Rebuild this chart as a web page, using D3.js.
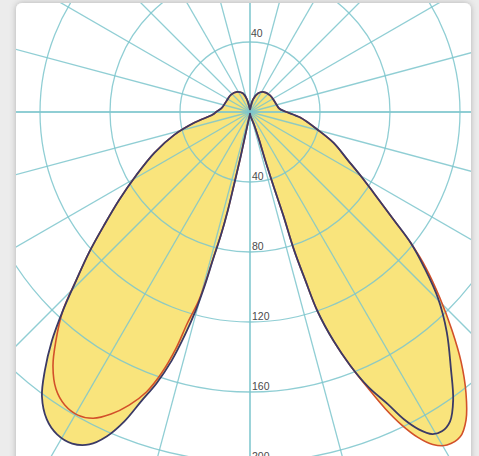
<!DOCTYPE html>
<html><head><meta charset="utf-8">
<script src="https://cdn.jsdelivr.net/npm/d3@7"></script>
<style>html,body{margin:0;padding:0;background:#ececec;}svg{display:block;}</style>
</head><body><svg id="c" width="479" height="456"></svg>
<script>
// Dark curve: gamma angle (deg, 0 = nadir, + to the right) and intensity, in outline order
const darkAngles = [-180,-173.7,-166.5,-159.3,-147,-131.8,-116.6,-98.1,-90.9,-86.1,-79.2,-73.3,-66.9,-61,-56.1,-52.2,-48.9,-45.9,-43.3,-40.9,-38.4,-36.2,-33.5,-30.9,-28.2,-25.8,-23.8,-22.1,-20.6,-19,-17.5,-16.3,-15.3,-14.6,-14.1,-13.3,-12.7,-12.4,-11.9,-11.5,-10,-5,0,5,12,16,17.7,18.1,17.5,17.6,17.85,17.7,18.2,18.7,20.05,21.6,23.3,25.25,26.6,28,29.5,31,32.9,35.2,38.1,41.8,45.3,48.3,50.8,53.1,56.8,59.8,63.9,69.8,75.4,83.7,90.8,96.9,110.8,129.5,147,156.6,166.5,173.7];
const darkValues = [1.5,2.6,7.4,11.4,13.7,14.7,14.8,16.3,19,21.3,32.2,45,59.4,74.2,90.1,105.5,122,138.4,155.9,172.9,188.8,201.3,210.5,214.7,215,211,202.5,190.8,176.5,163.9,149.1,133.2,117.7,102.5,87.4,72.4,57.5,42.7,27.9,14.4,5,2,1,2,3.5,5.5,7.5,16.6,28.6,43.7,61.9,83,101.3,119.9,139.2,156.1,171.2,184.6,196.4,205.4,211.5,212.9,210.5,201.4,186,168.7,151.1,133.2,118.7,102.8,84.5,73.8,62.1,50.8,39.8,28.9,20.1,16.8,15.4,14.9,13.7,11.6,7.4,2.6];
// Red curve
const redAngles = [-180,-173.7,-166.5,-159.3,-147,-131.8,-116.6,-98.1,-90.9,-86.1,-79.2,-73.3,-66.9,-61,-56.1,-52.2,-48.9,-45.9,-43.3,-40.3,-37.8,-35,-32.3,-29.6,-27.1,-24.7,-22.4,-20.3,-18.7,-17.4,-16.5,-15.2,-14.6,-14.1,-13.3,-12.7,-12.4,-11.9,-11.5,-10,-5,0,5,12,16,17.7,18.1,17.5,17.6,17.85,17.7,18.2,18.7,20.05,21.6,23.2,24.55,25.8,27.3,28.8,30.6,32.9,35.04,37.55,40.2,42.8,45.6,48.45,50.8,53.1,56.8,59.8,63.9,69.8,75.4,83.7,90.8,96.9,110.8,129.5,147,156.6,166.5,173.7];
const redValues = [1.5,2.6,7.4,11.4,13.7,14.7,14.8,16.3,19,21.3,32.2,45,59.4,74.2,90.1,105.5,122,138.4,155.9,171.5,183.7,193.3,198.1,199.2,196.6,190,181.2,170.6,157.5,141.9,125.6,111.7,99,86,72.4,57.5,42.7,27.9,14.4,5,2,1,2,3.5,5.5,7.5,16.6,28.6,43.7,61.9,83,101.3,119.9,139.2,156.1,172.2,186.7,198.2,209.2,216.8,221.1,221.1,215,202.5,186.9,169.8,151.9,134.4,118.7,102.8,84.5,73.8,62.1,50.8,39.8,28.9,20.1,16.8,15.4,14.9,13.7,11.6,7.4,2.6];
const ringValues = [40,80,120,160,200,240];
const labelsBelow = ["40","80","120","160","200"];
const labelsAbove = ["40"];
const spokeAngles = [0,15,30,45,60,75,90,105,120,135,150,165,180,195,210,225,240,255,270,285,300,315,330,345];

const svg = d3.select("#c");
const cx = 250, cy = 112;
const r = d3.scaleLinear().domain([0,40]).range([0,70]);

const defs = svg.append("defs");
const f = defs.append("filter").attr("id","sh").attr("x","-5%").attr("y","-5%").attr("width","110%").attr("height","110%");
f.append("feDropShadow").attr("dx",0).attr("dy",0).attr("stdDeviation",3).attr("flood-color","#000").attr("flood-opacity",0.25);
defs.append("clipPath").attr("id","cp").append("rect").attr("x",16).attr("y",3).attr("width",455).attr("height",470).attr("rx",6);

svg.append("rect").attr("x",16).attr("y",3).attr("width",455).attr("height",470).attr("rx",6)
  .attr("fill","#fff").attr("filter","url(#sh)");

const g = svg.append("g").attr("clip-path","url(#cp)").append("g").attr("transform",`translate(${cx},${cy})`);

const toPts = (angs, vals) => angs.map((a,i)=>({a, v: vals[i]}));
const line = d3.lineRadial()
  .angle(d => Math.PI - d.a*Math.PI/180)
  .radius(d => r(d.v))
  .curve(d3.curveCatmullRomClosed.alpha(0.5));

const dark = toPts(darkAngles, darkValues), red = toPts(redAngles, redValues);

// fills
[dark, red].forEach(p => {
  g.append("path").attr("d", line(p)).attr("fill","#f9e47c").attr("stroke","none");
});

// grid
const grid = g.append("g").attr("stroke","#7cc6cc").attr("fill","none").attr("stroke-opacity",0.85);
grid.selectAll("circle").data(ringValues).join("circle").attr("r", d=>r(d)).attr("stroke-width",1.3);
grid.selectAll("line").data(spokeAngles).join("line")
  .attr("x1",0).attr("y1",0)
  .attr("x2", d => 600*Math.sin(d*Math.PI/180))
  .attr("y2", d => 600*Math.cos(d*Math.PI/180))
  .attr("stroke-width", d => (d%90===0)?1.8:1.3);

// curves
g.append("path").attr("d", line(red)).attr("fill","none").attr("stroke","#d2502a").attr("stroke-width",1.6);
g.append("path").attr("d", line(dark)).attr("fill","none").attr("stroke","#3b3a66").attr("stroke-width",1.8);

// labels
const lab = g.append("g").attr("font-family","Liberation Sans, Arial, sans-serif").attr("font-size",10.5).attr("fill","#4a4a4a");
lab.selectAll("text.b").data(labelsBelow).join("text").attr("class","b")
  .attr("x",2).attr("y",(d,i)=>r(ringValues[i])-2).text(d=>d);
lab.selectAll("text.a").data(labelsAbove).join("text").attr("class","a")
  .attr("x",1).attr("y",(d,i)=>-r(ringValues[i])-5).text(d=>d);
</script></body></html>
